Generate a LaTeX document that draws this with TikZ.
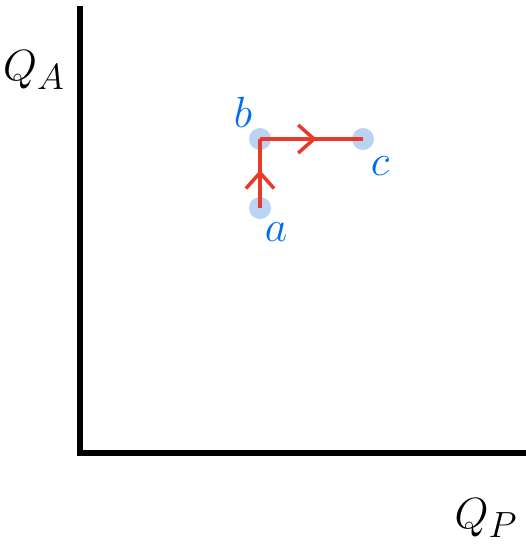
\documentclass[tikz,border=0pt]{standalone}
\usepackage{amsmath}
\usepackage{xcolor}
\usetikzlibrary{arrows.meta,decorations.markings}
\definecolor{ptblue}{RGB}{0,110,235}
\definecolor{dotblue}{RGB}{170,200,240}
\definecolor{pathred}{RGB}{232,58,40}

\begin{document}
\begin{tikzpicture}[x=0.02cm, y=-0.02cm,
  axis/.style={line width=3.6pt, black},
  dot/.style={circle, fill=dotblue, fill opacity=0.8, minimum size=22*0.02cm, inner sep=0pt},
  ptlabel/.style={font=\fontsize{26}{28}\selectfont, text=ptblue},
  axlabel/.style={font=\fontsize{32}{36}\selectfont},
  move/.style={line width=2.2pt, pathred, postaction={decorate},
    decoration={markings, mark=at position 0.55 with {\arrow[line width=2pt]{Straight Barb[length=9pt,width=16pt]}}}}
]
  \useasboundingbox (0,0) rectangle (526,555);
  % axes
  \coordinate (origin) at (80,453);
  \coordinate (ytop)   at (80,6);
  \coordinate (xend)   at (526,453);
  \draw[axis] (ytop) -- (origin) -- (xend);
  \node[axlabel] (qa) at (34,70)  {$Q_A$};
  \node[axlabel] (qp) at (486,518) {$Q_P$};

  % states
  \node[dot] (a) at (260,208) {};
  \node[dot] (b) at (260,139) {};
  \node[dot] (c) at (363,139) {};
  \node[ptlabel] (la) at (276,232) {$a$};
  \node[ptlabel] (lb) at (243,112) {$b$};
  \node[ptlabel] (lc) at (380,166) {$c$};

  \draw[move] (a.center) -- (b.center);
  \draw[move] (b.center) -- (c.center);
\end{tikzpicture}
\end{document}
